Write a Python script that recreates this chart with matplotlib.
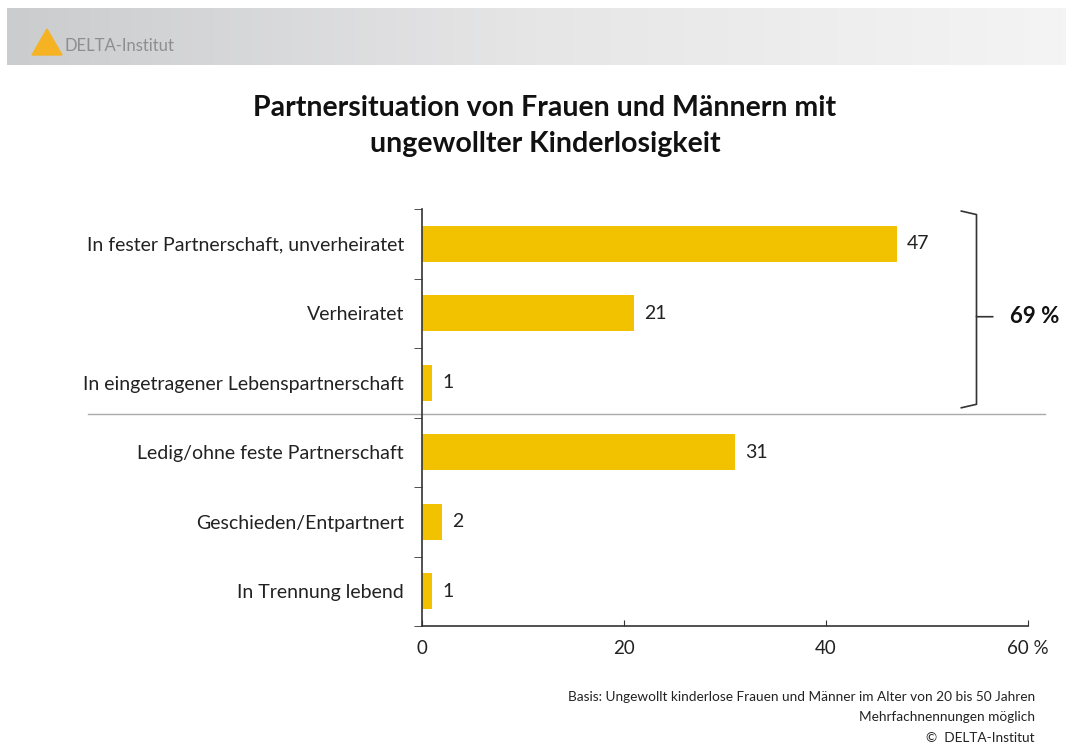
import numpy as np
import matplotlib.pyplot as plt
from matplotlib.patches import Polygon
from matplotlib.colors import LinearSegmentedColormap
from matplotlib.transforms import blended_transform_factory

# data
categories = ["In fester Partnerschaft, unverheiratet", "Verheiratet",
              "In eingetragener Lebenspartnerschaft", "Ledig/ohne feste Partnerschaft",
              "Geschieden/Entpartnert", "In Trennung lebend"]
values = [47, 21, 1, 31, 2, 1]
xticks = [0, 20, 40, 60]
xtick_labels = ["0", "20", "40", "60 %"]
group_total = "69 %"

plt.rcParams['font.family'] = ['Lato', 'DejaVu Sans']

fig = plt.figure(figsize=(10.66, 7.44), dpi=100)
W, H = 1066, 744

def fx(px):
    return px / W

def fy(py):
    return 1 - py / H

# header band with gradient
hax = fig.add_axes([fx(7), fy(65), 1 - fx(7), (65 - 8) / H])
grad = np.linspace(0, 1, 256).reshape(1, -1)
cm = LinearSegmentedColormap.from_list("hdr", ["#cbccce", "#e6e6e7", "#f4f4f4"])
hax.imshow(grad, aspect="auto", cmap=cm, extent=[0, 1, 0, 1])
hax.axis("off")
fig.patches.append(Polygon([[fx(32), fy(55)], [fx(47), fy(29)], [fx(62), fy(55)]],
                           closed=True, transform=fig.transFigure, color="#f5b324", zorder=5))
fig.text(fx(64), fy(46), "DELTA-Institut", fontsize=12, color="#8e8e8e", va="center", ha="left")

# title
fig.text(fx(545), fy(126), "Partnersituation von Frauen und Männern mit\nungewollter Kinderlosigkeit",
         ha="center", va="center", fontsize=20.5, fontweight="bold", linespacing=1.45, color="#111111")

ax = fig.add_axes([fx(422), fy(626), fx(1028) - fx(422), (626 - 209) / H])
y = np.arange(len(categories))
ax.barh(y, values, height=0.52, color="#f2c100")
ax.set_xlim(0, 60)
ax.set_ylim(len(categories) - 0.5, -0.5)

for yi, v in zip(y, values):
    ax.text(v + 1.0, yi, str(v), va="center", ha="left", fontsize=14, color="#222222")

ax.set_yticks(y)
ax.set_yticklabels(categories, fontsize=14, color="#222222")
ax.tick_params(axis="y", length=0, pad=13)
ax.set_yticks(np.arange(-0.5, len(categories) + 0.5, 1), minor=True)
ax.tick_params(axis="y", which="minor", length=6, direction="out", color="#333333")

ax.set_xticks(xticks)
ax.set_xticklabels(xtick_labels, fontsize=13.5, color="#222222")
ax.tick_params(axis="x", length=4, direction="in", pad=10, color="#333333")

for s in ["top", "right"]:
    ax.spines[s].set_visible(False)
for s in ["left", "bottom"]:
    ax.spines[s].set_color("#333333")
    ax.spines[s].set_linewidth(1.2)

# separator line
tr = blended_transform_factory(fig.transFigure, ax.transData)
ax.plot([fx(88), fx(1045)], [2.45, 2.45], transform=tr, color="#aaaaaa", lw=1, clip_on=False)

# bracket
bx0, bx1, btip = 53.4, 54.9, 56.5
ytop, ybot, ymid = -0.47, 2.36, 1.05
ax.plot([bx0, bx1, bx1, btip], [ytop, ytop + 0.05, ymid, ymid], color="#333333", lw=1.2, clip_on=False)
ax.plot([bx1, bx1, bx0], [ymid, ybot - 0.05, ybot], color="#333333", lw=1.2, clip_on=False)
ax.text(58.2, ymid, group_total, fontsize=16, fontweight="bold", va="center", ha="left", color="#111111")

# footer
fig.text(fx(1035), fy(697), "Basis: Ungewollt kinderlose Frauen und Männer im Alter von 20 bis 50 Jahren",
         ha="right", va="center", fontsize=9.8, color="#222222")
fig.text(fx(1035), fy(717), "Mehrfachnennungen möglich", ha="right", va="center", fontsize=9.8, color="#222222")
fig.text(fx(1035), fy(738), "©  DELTA-Institut", ha="right", va="center", fontsize=9.8, color="#222222")

fig.savefig("out.png", dpi=100)
